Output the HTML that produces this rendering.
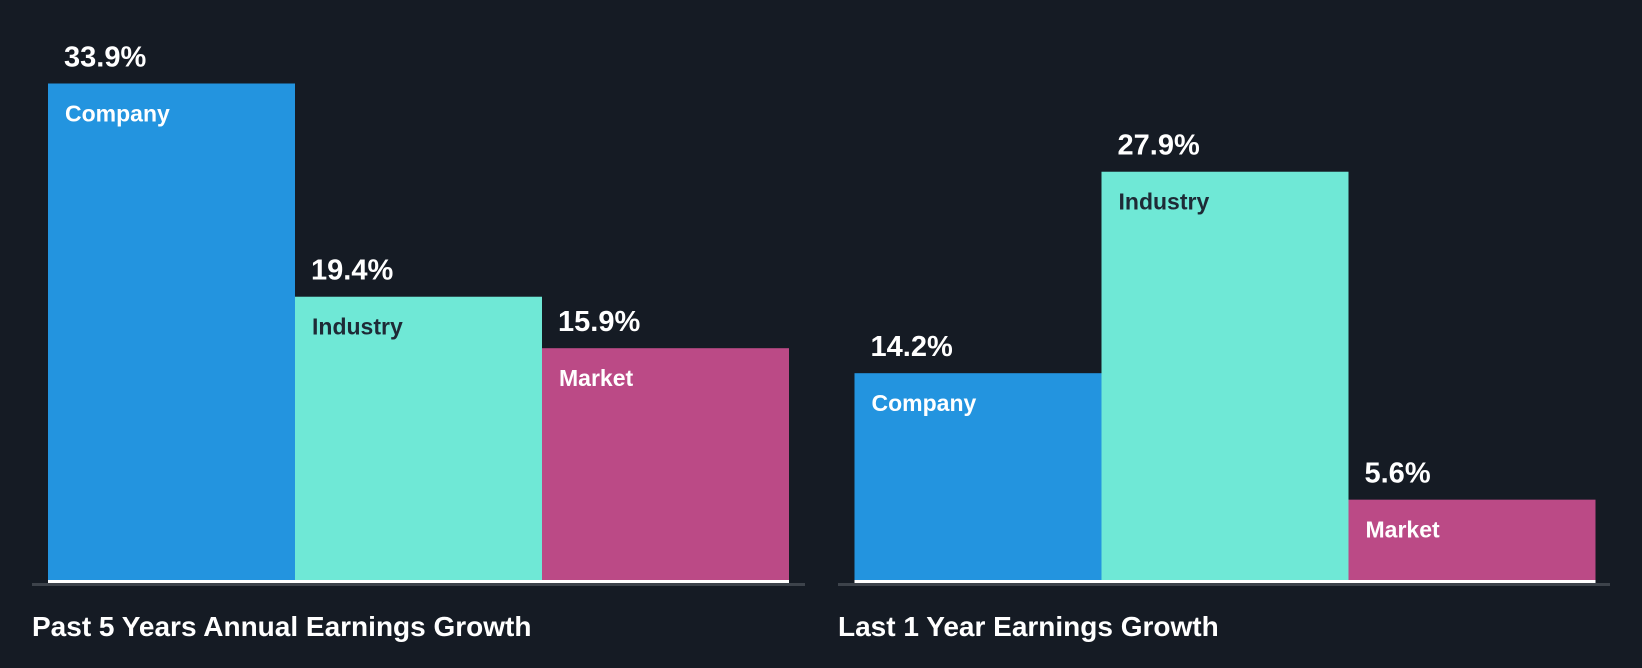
<!DOCTYPE html>
<html><head><meta charset="utf-8"><style>
html,body{margin:0;padding:0;background:#151b24;}
svg{display:block;font-family:"Liberation Sans",sans-serif;font-weight:bold;}
</style></head><body>
<svg width="1642" height="668" viewBox="0 0 1642 668">
<g id="plot"></g>
<text x="32" y="636" fill="#fff" font-size="28">Past 5 Years Annual Earnings Growth</text>
<text x="838" y="636" fill="#fff" font-size="28">Last 1 Year Earnings Growth</text>
</svg>
<script>
const categories = ["Company","Industry","Market"];
const past5Values = [33.9, 19.4, 15.9];
const last1Values = [14.2, 27.9, 5.6];
const colors = ["#2394df","#6fe8d6","#bb4a86"];
const labelColors = ["#ffffff","#1e2a36","#ffffff"];
const NS="http://www.w3.org/2000/svg";
const g=document.getElementById('plot');
const baseY=582, unit=498.5/33.9, barW=247;
function y(v){return baseY - v*unit;}
function mk(t,a){const e=document.createElementNS(NS,t);for(const k in a)e.setAttribute(k,a[k]);g.appendChild(e);return e;}
function group(vals,x0,axisX0,axisX1,key){
  const ax=mk('rect',{x:axisX0,y:baseY+1,width:axisX1-axisX0,height:3,fill:'#3d434b'});
  
  
  vals.forEach((v,i)=>{
    const x=x0+i*barW;
    const r=mk('rect',{x:x,y:y(v),width:barW,height:baseY-y(v),fill:colors[i]});
    
    
    const b=mk('rect',{x:x,y:baseY-2,width:barW,height:3,fill:'#ffffff'});
    
    
    const t=mk('text',{x:x+16,y:y(v)-17,fill:'#fff','font-size':29});
    t.textContent=v.toFixed(1)+'%';
    
    
    const l=mk('text',{x:x+17,y:y(v)+38,fill:labelColors[i],'font-size':23});
    l.textContent=categories[i];
    
    
  });
}
group(past5Values,48,32,805,'past5');
group(last1Values,854.5,838,1610,'last1');
</script>
</body></html>
